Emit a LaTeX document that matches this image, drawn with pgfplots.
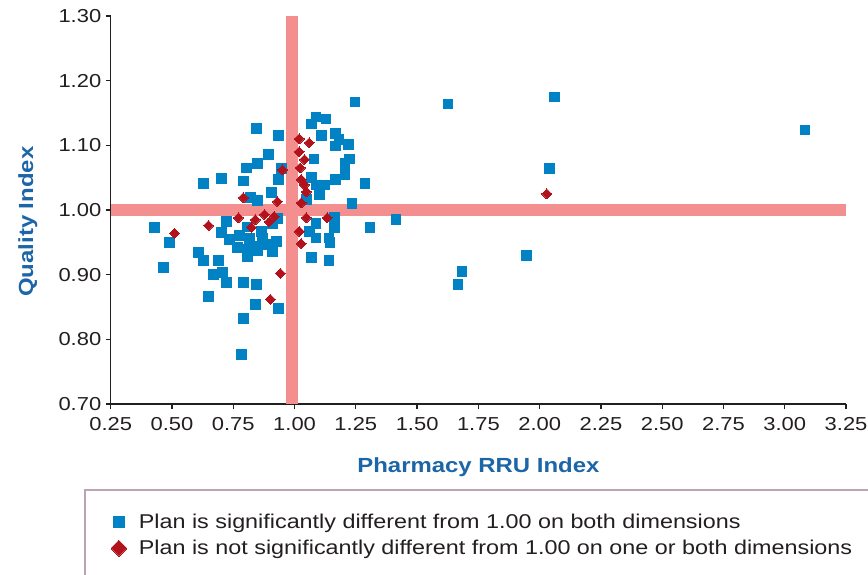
\documentclass[border=0pt]{standalone}
\usepackage{fontspec}
\setmainfont{Liberation Sans}[FakeStretch=1.17]
\usepackage{pgfplots}
\pgfplotsset{compat=1.18}
\definecolor{sqblue}{HTML}{0082C4}
\definecolor{dmred}{HTML}{B2121C}
\definecolor{barpink}{HTML}{F38F8F}
\definecolor{titleblue}{HTML}{1C65A6}
\definecolor{tickgray}{HTML}{231F20}
\definecolor{legbox}{HTML}{BBA5B5}
\pgfplotstableread{
x y
0.429 0.973
0.466 0.911
0.490 0.950
0.608 0.934
0.629 0.922
0.629 1.041
0.649 0.866
0.669 0.900
0.706 0.903
0.702 1.049
0.690 0.922
0.722 0.888
0.791 0.888
0.791 0.832
0.783 0.777
0.844 0.885
0.840 0.854
0.934 0.848
0.722 0.982
0.702 0.965
0.734 0.954
0.775 0.961
0.808 0.974
0.816 0.956
0.865 0.967
0.869 0.956
0.909 0.979
0.930 0.987
0.767 0.942
0.808 0.940
0.844 0.944
0.808 0.928
0.848 0.937
0.889 0.947
0.909 0.936
0.926 0.951
0.804 1.065
0.791 1.045
0.820 1.019
0.848 1.015
0.844 1.126
0.934 1.115
0.893 1.086
0.848 1.072
0.946 1.064
0.934 1.047
0.905 1.027
1.247 1.167
1.088 1.144
1.129 1.141
1.068 1.133
1.109 1.115
1.166 1.118
1.182 1.109
1.166 1.099
1.219 1.101
1.080 1.079
1.223 1.079
1.206 1.072
1.206 1.055
1.166 1.047
1.288 1.041
1.068 1.050
1.088 1.039
1.121 1.039
1.101 1.024
1.048 1.016
1.235 1.010
1.162 0.988
1.088 0.979
1.162 0.973
1.308 0.973
1.060 0.967
1.088 0.957
1.141 0.957
1.145 0.950
1.068 0.927
1.141 0.922
1.626 1.164
2.061 1.175
3.083 1.124
2.041 1.064
1.414 0.985
1.947 0.930
1.683 0.905
1.666 0.885
}\sigdata
\pgfplotstableread{
x y
0.510 0.964
0.649 0.976
0.771 0.988
0.791 1.019
0.824 0.973
0.840 0.985
0.877 0.993
0.897 0.982
0.917 0.990
0.930 1.013
0.942 0.902
0.901 0.862
1.019 1.110
1.060 1.104
1.019 1.090
1.040 1.078
0.950 1.062
1.023 1.065
1.027 1.047
1.040 1.039
1.048 1.028
1.027 1.011
1.048 0.988
1.133 0.988
1.019 0.967
1.027 0.948
2.029 1.025
}\nsdata
\begin{document}
\begin{tikzpicture}
\useasboundingbox (-111pt,-171pt) rectangle (759pt,405pt);
\draw[color=legbox, line width=1.8pt] (-26pt,-86pt) rectangle (790pt,-200pt);
\begin{axis}[
  at={(0pt,0pt)}, anchor=south west,
  scale only axis, width=737pt, height=389pt,
  xmin=0.25, xmax=3.25, ymin=0.70, ymax=1.30,
  axis x line=bottom, axis y line=left,
  axis line style={-, color=tickgray, line width=1.3pt},
  xtick={0.25,0.5,0.75,1,1.25,1.5,1.75,2,2.25,2.5,2.75,3,3.25},
  ytick={0.7,0.8,0.9,1.0,1.1,1.2,1.3},
  tick align=outside, major tick length=5pt,
  tick style={color=tickgray, line width=1.3pt},
  /pgf/number format/fixed, /pgf/number format/fixed zerofill,
  /pgf/number format/precision=2,
  /pgf/number format/assume math mode=true,
  ticklabel style={font=\fontsize{18.8}{22}\selectfont, text=tickgray},
  xticklabel style={yshift=-5pt},
  yticklabel style={xshift=-1pt},
  xlabel={Pharmacy RRU Index}, ylabel={Quality Index},
  label style={font=\fontsize{20.5}{25}\selectfont\bfseries, text=titleblue},
  xlabel style={at={(axis description cs:0.5,-0.163)}, anchor=center},
  ylabel style={at={(axis description cs:-0.1126,0.47)}, anchor=center},
  legend style={at={(rel axis cs:0,-0.338)}, anchor=west, draw=none, fill=none,
    font=\fontsize{20}{24}\selectfont, text=tickgray, row sep=8pt,
    inner sep=0pt, nodes={inner sep=1pt}},
  legend cell align=left,
  legend image code/.code={\path[draw=none, fill=none] (0pt,-6pt) rectangle (27pt,6pt);
    \draw[#1] plot coordinates {(8pt,0pt)};},
]
\addplot[only marks, mark=square*, mark size=4.8pt, color=sqblue,
  mark options={line width=0pt},
  legend image post style={mark size=5.3pt}] table[x=x, y=y] {\sigdata};
\addlegendentry{Plan is significantly different from 1.00 on both dimensions}
\addplot[only marks, mark=square*, mark size=3.5pt, color=dmred,
  mark options={rotate=45, line width=0pt},
  legend image post style={mark size=5.6pt}] table[x=x, y=y] {\nsdata};
\addlegendentry{Plan is not significantly different from 1.00 on one or both dimensions}
\addplot[forget plot, color=barpink, line width=11.5pt] coordinates {(0.99,0.70) (0.99,1.30)};
\addplot[forget plot, color=barpink, line width=11.5pt] coordinates {(0.25,1.00) (3.25,1.00)};
\end{axis}
\end{tikzpicture}
\end{document}
